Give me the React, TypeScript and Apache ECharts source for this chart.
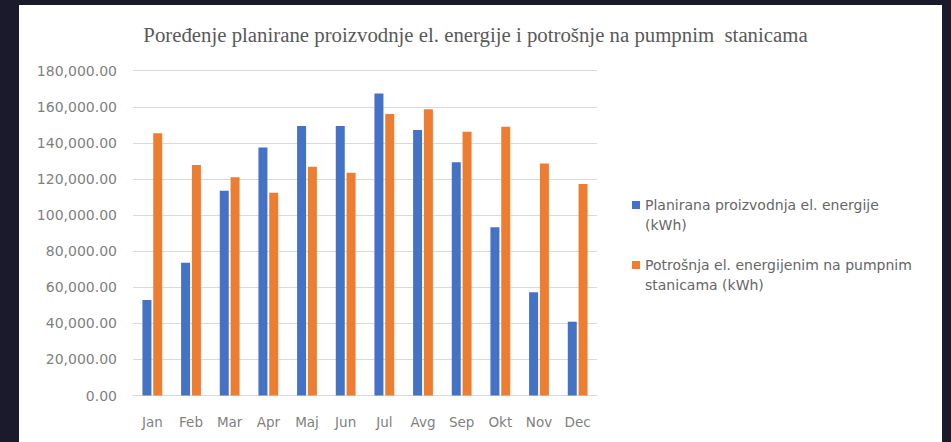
import React, { useEffect, useRef } from "react";
import * as echarts from "echarts";

const months = ["Jan", "Feb", "Mar", "Apr", "Maj", "Jun", "Jul", "Avg", "Sep", "Okt", "Nov", "Dec"];
const planned = [52900, 73600, 113500, 137500, 149300, 149300, 167400, 147100, 129200, 93200, 57200, 40900];
const consumption = [145300, 127700, 120900, 112400, 126800, 123400, 156000, 158600, 146200, 148900, 128600, 117200];
const seriesNames = [
  "Planirana proizvodnja el. energije (kWh)",
  "Potrošnja el. energijenim na pumpnim stanicama (kWh)",
];
const legendLines: Record<string, string[]> = {
  [seriesNames[0]]: ["Planirana proizvodnja el. energije", "(kWh)"],
  [seriesNames[1]]: ["Potrošnja el. energijenim na pumpnim", "stanicama (kWh)"],
};
const titleText = "Poređenje planirane proizvodnje el. energije i potrošnje na pumpnim  stanicama";

export default function App() {
  const ref = useRef<HTMLDivElement>(null);
  useEffect(() => {
    if (!ref.current) return;
    const chart = echarts.init(ref.current, null, { renderer: "svg" });
    const axisFont = { fontFamily: "DejaVu Sans", fontSize: 13.5, color: "#7f7f7f" };
    chart.setOption({
      animation: false,
      backgroundColor: "#1b1a2d",
      graphic: [
        {
          type: "rect",
          z: -10,
          shape: { x: 19, y: 5, width: 923, height: 437 },
          style: { fill: "#ffffff" },
        },
      ],
      title: {
        text: titleText,
        left: "center",
        top: 19,
        textStyle: {
          fontFamily: "Liberation Serif",
          fontWeight: "normal",
          fontSize: 20.8,
          color: "#595959",
        },
      },
      grid: { left: 133, right: 354, top: 70.7, bottom: 46.5 },
      xAxis: {
        type: "category",
        data: months,
        axisLine: { lineStyle: { color: "#d9d9d9" } },
        axisTick: { show: false },
        axisLabel: { ...axisFont, margin: 19 },
      },
      yAxis: {
        type: "value",
        min: 0,
        max: 180000,
        interval: 20000,
        axisLine: { show: false },
        axisTick: { show: false },
        splitLine: { lineStyle: { color: "#d9d9d9" } },
        axisLabel: {
          ...axisFont,
          fontSize: 14,
          margin: 16,
          formatter: (v: number) =>
            v.toLocaleString("en-US", { minimumFractionDigits: 2, maximumFractionDigits: 2 }),
        },
      },
      legend: {
        orient: "vertical",
        left: 627,
        top: 170,
        itemWidth: 8,
        itemHeight: 8,
        itemGap: 0,
        icon: "rect",
        data: seriesNames,
        formatter: (name: string) => "\n" + legendLines[name].join("\n"),
        textStyle: {
          fontFamily: "DejaVu Sans",
          fontSize: 14,
          color: "#666666",
          lineHeight: 20,
        },
      },
      series: [
        {
          name: seriesNames[0],
          type: "bar",
          data: planned,
          barWidth: 9,
          barGap: "20%",
          itemStyle: { color: "#4472c4" },
        },
        {
          name: seriesNames[1],
          type: "bar",
          data: consumption,
          barWidth: 9,
          itemStyle: { color: "#ed7d31" },
        },
      ],
    });
    return () => chart.dispose();
  }, []);
  return (
    <div
      ref={ref}
      style={{ position: "fixed", left: 0, top: 0, width: 951, height: 442 }}
    />
  );
}
